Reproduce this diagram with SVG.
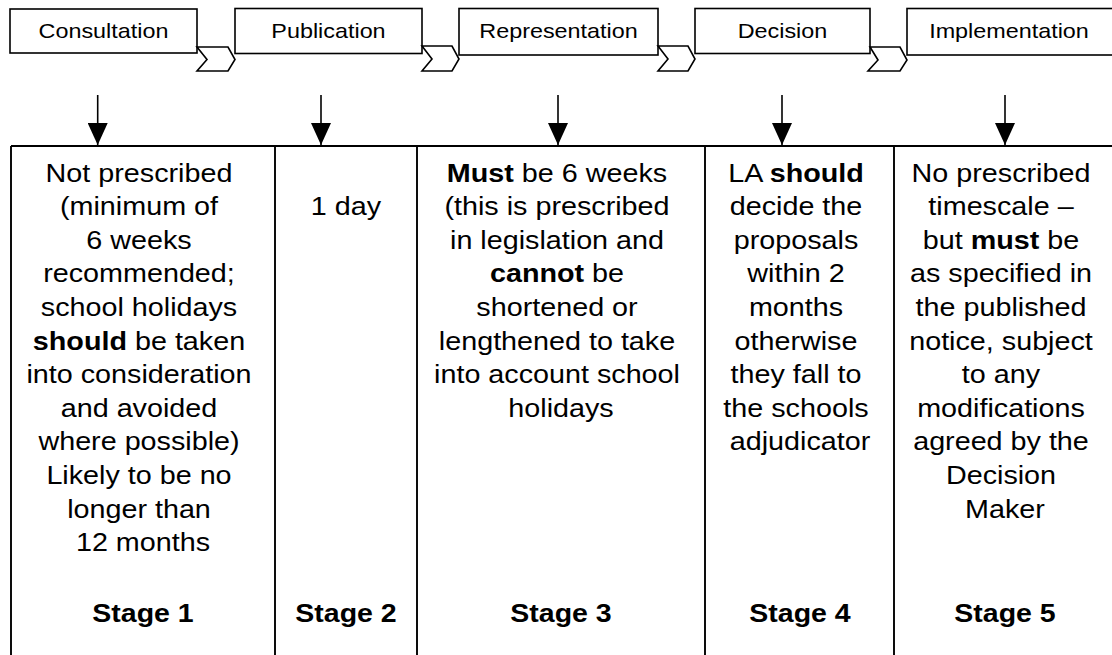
<svg xmlns="http://www.w3.org/2000/svg" width="1112" height="655" viewBox="0 0 1112 655">
<style>
.box{fill:#fff;stroke:#000;stroke-width:1.6}
.chev{fill:#fff;stroke:#000;stroke-width:1.6;stroke-linejoin:miter}
.grid{stroke:#000;stroke-width:1.9;fill:none}
.arr{stroke:#000;stroke-width:1.6;fill:none}
.h{font-family:"Liberation Sans",Arial,sans-serif;font-size:20.5px;text-anchor:middle;fill:#000}
.t{font-family:"Liberation Sans",Arial,sans-serif;font-size:25.2px;text-anchor:middle;fill:#000}
.s{font-family:"Liberation Sans",Arial,sans-serif;font-size:25px;font-weight:bold;text-anchor:middle;fill:#000}
.b{font-weight:bold}
</style>
<defs>
<marker id="ah" markerUnits="userSpaceOnUse" markerWidth="22" markerHeight="20" viewBox="0 0 22 20" refX="22" refY="10" orient="auto">
<path d="M0,0 L22,10 L0,20 z" fill="#000"/>
</marker>
</defs>
<rect width="1112" height="655" fill="#fff"/>

<g id="header-consultation">
<rect class="box" x="10" y="9" width="187" height="44"/>
<g transform="scale(1.14,1)"><text class="h" x="90.79" y="38.3">Consultation</text></g>
</g>
<g id="header-publication">
<rect class="box" x="235" y="8.5" width="187" height="45"/>
<g transform="scale(1.14,1)"><text class="h" x="288.16" y="38.3">Publication</text></g>
</g>
<g id="header-representation">
<rect class="box" x="459" y="8.5" width="199" height="46.5"/>
<g transform="scale(1.14,1)"><text class="h" x="489.91" y="38.3">Representation</text></g>
</g>
<g id="header-decision">
<rect class="box" x="695" y="8.5" width="175" height="45"/>
<g transform="scale(1.14,1)"><text class="h" x="686.4" y="38.3">Decision</text></g>
</g>
<g id="header-implementation">
<rect class="box" x="907" y="8.5" width="215" height="46.5"/>
<g transform="scale(1.14,1)"><text class="h" x="885.09" y="38.3">Implementation</text></g>
</g>

<g id="connectors">
<polygon class="chev" points="197,47 228,47 235,59.5 228,71 197,71 207,59.5"/>
<polygon class="chev" points="422,46 452,46 459,59 452,71 422,71 432,59"/>
<polygon class="chev" points="658,46 688,46 695,59 688,71 658,71 668,59"/>
<polygon class="chev" points="870,47 900,47 907,60 900,71 868,71 878,60"/>
<line class="arr" x1="97.7" y1="95" x2="97.7" y2="145" marker-end="url(#ah)"/>
<line class="arr" x1="321" y1="95" x2="321" y2="145" marker-end="url(#ah)"/>
<line class="arr" x1="558" y1="95" x2="558" y2="145" marker-end="url(#ah)"/>
<line class="arr" x1="782" y1="95" x2="782" y2="145" marker-end="url(#ah)"/>
<line class="arr" x1="1005" y1="95" x2="1005" y2="145" marker-end="url(#ah)"/>
</g>

<g id="table-grid">
<line class="grid" x1="11" y1="146" x2="1116" y2="146"/>
<line class="grid" x1="11" y1="146" x2="11" y2="660"/>
<line class="grid" x1="275" y1="146" x2="275" y2="660"/>
<line class="grid" x1="417" y1="146" x2="417" y2="660"/>
<line class="grid" x1="705" y1="146" x2="705" y2="660"/>
<line class="grid" x1="894" y1="146" x2="894" y2="660"/>
</g>

<g id="stage1">
<g transform="scale(1.14,1)">
<text class="t" y="181.7">
<tspan x="125.44">Not prescribed</tspan>
<tspan x="125.44" dy="33.6">(minimum of</tspan>
<tspan x="125.44" dy="33.6">6 weeks</tspan>
<tspan x="125.44" dy="33.6">recommended;</tspan>
<tspan x="125.44" dy="33.6">school holidays</tspan>
<tspan x="125.44" dy="33.6"><tspan class="b">should</tspan> be taken</tspan>
<tspan x="125.44" dy="33.6">into consideration</tspan>
<tspan x="125.44" dy="33.6">and avoided</tspan>
<tspan x="125.44" dy="33.6">where possible)</tspan>
<tspan x="125.44" dy="33.6">Likely to be no</tspan>
<tspan x="125.44" dy="33.6">longer than</tspan>
<tspan x="125.44" dy="33.6">12 months</tspan>
</text>
<text class="s" x="125.44" y="622.3">Stage 1</text>
</g>
</g>

<g id="stage2">
<g transform="scale(1.14,1)">
<text class="t" x="303.51" y="215.3">1 day</text>
<text class="s" x="303.51" y="622.3">Stage 2</text>
</g>
</g>

<g id="stage3">
<g transform="scale(1.14,1)">
<text class="t" y="181.7">
<tspan x="492.11"><tspan class="b">Must</tspan> be 6 weeks</tspan>
<tspan x="492.11" dy="33.6">(this is prescribed</tspan>
<tspan x="492.11" dy="33.6">in legislation and</tspan>
<tspan x="492.11" dy="33.6"><tspan class="b">cannot</tspan> be</tspan>
<tspan x="492.11" dy="33.6">shortened or</tspan>
<tspan x="492.11" dy="33.6">lengthened to take</tspan>
<tspan x="492.11" dy="33.6">into account school</tspan>
<tspan x="492.11" dy="33.6">holidays</tspan>
</text>
<text class="s" x="492.11" y="622.3">Stage 3</text>
</g>
</g>

<g id="stage4">
<g transform="scale(1.14,1)">
<text class="t" y="181.7">
<tspan x="701.75">LA <tspan class="b">should</tspan></tspan>
<tspan x="701.75" dy="33.6">decide the</tspan>
<tspan x="701.75" dy="33.6">proposals</tspan>
<tspan x="701.75" dy="33.6">within 2</tspan>
<tspan x="701.75" dy="33.6">months</tspan>
<tspan x="701.75" dy="33.6">otherwise</tspan>
<tspan x="701.75" dy="33.6">they fall to</tspan>
<tspan x="701.75" dy="33.6">the schools</tspan>
<tspan x="701.75" dy="33.6">adjudicator</tspan>
</text>
<text class="s" x="701.75" y="622.3">Stage 4</text>
</g>
</g>

<g id="stage5">
<g transform="scale(1.14,1)">
<text class="t" y="181.7">
<tspan x="881.58">No prescribed</tspan>
<tspan x="881.58" dy="33.6">timescale –</tspan>
<tspan x="881.58" dy="33.6">but <tspan class="b">must</tspan> be</tspan>
<tspan x="881.58" dy="33.6">as specified in</tspan>
<tspan x="881.58" dy="33.6">the published</tspan>
<tspan x="881.58" dy="33.6">notice, subject</tspan>
<tspan x="881.58" dy="33.6">to any</tspan>
<tspan x="881.58" dy="33.6">modifications</tspan>
<tspan x="881.58" dy="33.6">agreed by the</tspan>
<tspan x="881.58" dy="33.6">Decision</tspan>
<tspan x="881.58" dy="33.6">Maker</tspan>
</text>
<text class="s" x="881.58" y="622.3">Stage 5</text>
</g>
</g>
</svg>
